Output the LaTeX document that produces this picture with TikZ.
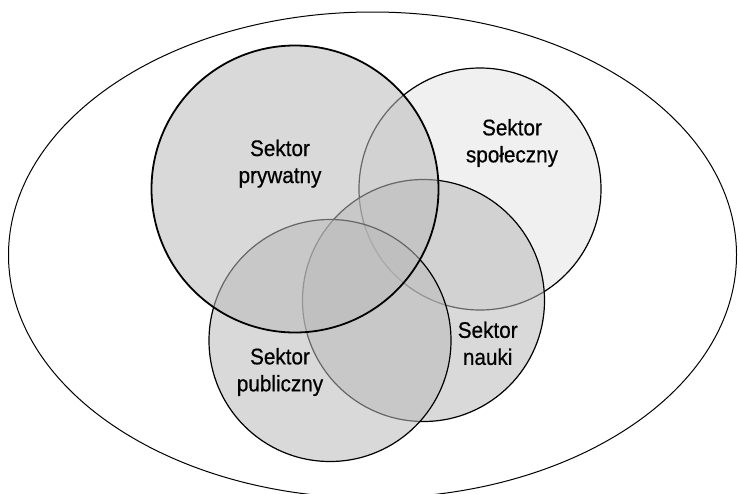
\documentclass[tikz,border=0pt]{standalone}
\usepackage{fontspec}
\setmainfont{Liberation Sans}[FakeStretch=0.92,FakeBold=0.6]
\definecolor{secfill}{RGB}{186,186,186}
\definecolor{socfill}{RGB}{228,228,228}
\begin{document}
\begin{tikzpicture}[x=1pt,y=-1pt,
  sector/.style={circle, draw=black, line width=1.2pt, fill=secfill,
    fill opacity=0.55, inner sep=0pt, outer sep=0pt},
  label/.style={align=center, inner sep=0pt, text=black,
    font=\fontsize{22.5}{27}\selectfont}]
  \useasboundingbox (0,0) rectangle (738,493);
  % surrounding environment
  \draw[line width=1pt] (372.5,255) ellipse [x radius=364, y radius=243];
  % the four sectors, back to front
  \node[sector, fill=socfill, minimum size=242pt] (spol) at (480,189) {};
  \node[sector, minimum size=242pt] (nauka) at (423.5,300.5) {};
  \node[sector, minimum size=242pt] (publ) at (330,340.5) {};
  \node[sector, line width=1.8pt, minimum size=287pt] (pryw) at (295,189) {};
  % labels
  \node[label] (tpryw) at (280,163.7) {Sektor\\prywatny};
  \node[label] (tspol) at (512,143) {Sektor\\społeczny};
  \node[label] (tnauka) at (487.7,343.3) {Sektor\\nauki};
  \node[label] (tpubl) at (280,372) {Sektor\\publiczny};
\end{tikzpicture}
\end{document}
